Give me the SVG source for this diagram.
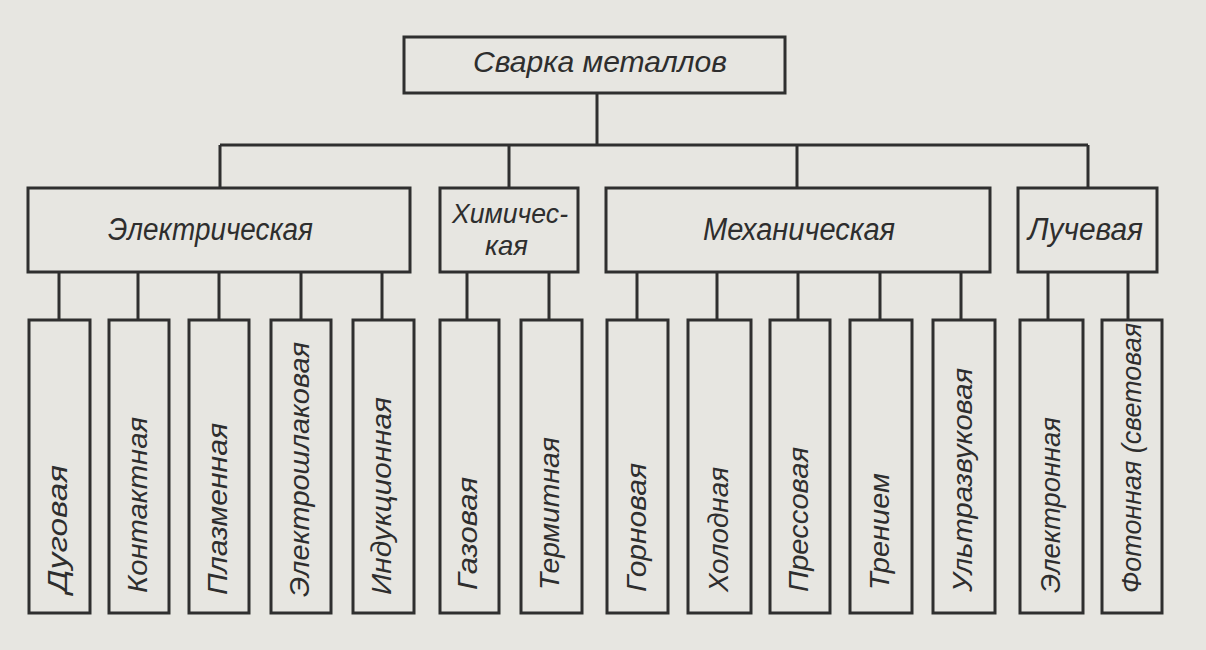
<svg xmlns="http://www.w3.org/2000/svg" width="1206" height="650" viewBox="0 0 1206 650">
<style>
.box{fill:none;stroke:#2f2f2f;stroke-width:3}
.ln{fill:none;stroke:#2f2f2f;stroke-width:3}
text{font-family:"Liberation Sans",Arial,sans-serif;font-style:italic;fill:#2e2e2e}
.t1{font-size:30px}
.t2{font-size:31px}
.t2s{font-size:28px}
.t3{font-size:28px}
</style>
<rect x="0" y="0" width="1206" height="650" fill="#e7e6e1"/>
<g id="connectors">
<path class="ln" d="M597 93V145M220 145H1088M220 145V188M509 145V188M797 145V188M1088 145V188"/>
<path class="ln" d="M59 272V320M138 272V320M219 272V320M301 272V320M382 272V320M467 272V320M549 272V320"/>
<path class="ln" d="M637 272V320M717 272V320M798 272V320M880 272V320M961 272V320M1048 272V320M1128 272V320"/>
</g>
<g id="root"><rect class="box" x="404" y="37" width="381" height="56"/><text class="t1" x="473" y="72" textLength="254" lengthAdjust="spacingAndGlyphs">Сварка металлов</text></g>
<g id="electric"><rect class="box" x="28" y="188" width="382" height="84"/><text class="t2" x="108" y="240" textLength="205" lengthAdjust="spacingAndGlyphs">Электрическая</text></g>
<g id="chemical"><rect class="box" x="440" y="188" width="138" height="84"/><text class="t2s" x="452" y="223" textLength="116" lengthAdjust="spacingAndGlyphs">Химичес-</text><text class="t2s" x="485" y="255" textLength="43" lengthAdjust="spacingAndGlyphs">кая</text></g>
<g id="mechanical"><rect class="box" x="606" y="188" width="384" height="84"/><text class="t2" x="703" y="240" textLength="192" lengthAdjust="spacingAndGlyphs">Механическая</text></g>
<g id="beam"><rect class="box" x="1018" y="188" width="139" height="84"/><text class="t2" x="1028" y="240" textLength="115" lengthAdjust="spacingAndGlyphs">Лучевая</text></g>
<g id="arc"><rect class="box" x="29" y="320" width="61" height="293"/><text class="t3" transform="translate(67,593) rotate(-90)" textLength="128" lengthAdjust="spacingAndGlyphs">Дуговая</text></g>
<g id="contact"><rect class="box" x="109" y="320" width="60" height="293"/><text class="t3" transform="translate(147,593) rotate(-90)" textLength="176" lengthAdjust="spacingAndGlyphs">Контактная</text></g>
<g id="plasma"><rect class="box" x="189" y="320" width="60" height="293"/><text class="t3" transform="translate(227,595) rotate(-90)" textLength="172" lengthAdjust="spacingAndGlyphs">Плазменная</text></g>
<g id="electroslag"><rect class="box" x="271" y="320" width="60" height="293"/><text class="t3" transform="translate(309,597) rotate(-90)" textLength="255" lengthAdjust="spacingAndGlyphs">Электрошлаковая</text></g>
<g id="induction"><rect class="box" x="353" y="320" width="61" height="293"/><text class="t3" transform="translate(391,595) rotate(-90)" textLength="198" lengthAdjust="spacingAndGlyphs">Индукционная</text></g>
<g id="gas"><rect class="box" x="440" y="320" width="59" height="293"/><text class="t3" transform="translate(477,590) rotate(-90)" textLength="113" lengthAdjust="spacingAndGlyphs">Газовая</text></g>
<g id="thermite"><rect class="box" x="521" y="320" width="61" height="293"/><text class="t3" transform="translate(559,590) rotate(-90)" textLength="153" lengthAdjust="spacingAndGlyphs">Термитная</text></g>
<g id="forge"><rect class="box" x="607" y="320" width="61" height="293"/><text class="t3" transform="translate(646,592) rotate(-90)" textLength="129" lengthAdjust="spacingAndGlyphs">Горновая</text></g>
<g id="cold"><rect class="box" x="688" y="320" width="63" height="293"/><text class="t3" transform="translate(728,592) rotate(-90)" textLength="125" lengthAdjust="spacingAndGlyphs">Холодная</text></g>
<g id="press"><rect class="box" x="770" y="320" width="60" height="293"/><text class="t3" transform="translate(808,592) rotate(-90)" textLength="145" lengthAdjust="spacingAndGlyphs">Прессовая</text></g>
<g id="friction"><rect class="box" x="850" y="320" width="62" height="293"/><text class="t3" transform="translate(889,590) rotate(-90)" textLength="117" lengthAdjust="spacingAndGlyphs">Трением</text></g>
<g id="ultrasonic"><rect class="box" x="933" y="320" width="62" height="293"/><text class="t3" transform="translate(972,592) rotate(-90)" textLength="224" lengthAdjust="spacingAndGlyphs">Ультразвуковая</text></g>
<g id="electron"><rect class="box" x="1020" y="320" width="63" height="293"/><text class="t3" transform="translate(1060,593) rotate(-90)" textLength="176" lengthAdjust="spacingAndGlyphs">Электронная</text></g>
<g id="photon"><rect class="box" x="1102" y="320" width="60" height="293"/><text class="t3" transform="translate(1141,593) rotate(-90)" textLength="270" lengthAdjust="spacingAndGlyphs">Фотонная (световая</text></g>
</svg>
